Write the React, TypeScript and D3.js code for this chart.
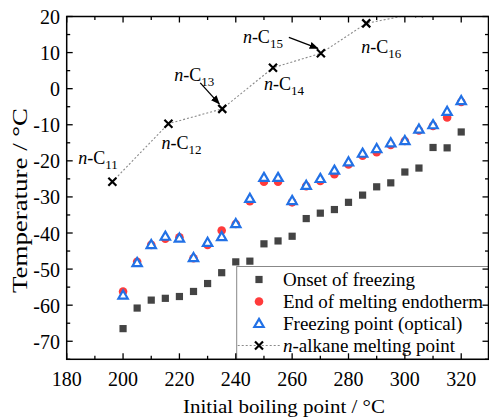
import React from 'react';
import * as d3 from 'd3';

// boiling point of each fraction (°C)
const bpFractions = [200, 205, 210, 215, 220, 225, 230, 235, 240, 245, 250, 255, 260, 265,
  270, 275, 280, 285, 290, 295, 300, 305, 310, 315, 320];
const onsetFreezing = [-66.5, -60.8, -58.6, -58.1, -57.6, -56.2, -54, -51, -48, -47.8, -43, -42.2,
  -40.9, -36, -34.5, -33.5, -31.5, -29.5, -27.2, -26.1, -23.1, -22, -16.3, -16.4, -12];
const endMelting = [-56.2, -48, -43.3, -41.6, -41.2, -47, -43.3, -39.3, -37.5, -31.2, -25.8, -25.8,
  -31.5, -27, -25.6, -23.7, -21, -18.6, -17.6, -15.6, -14.5, -11.6, -10.3, -8, -3.7];
const freezingOptical = [-57.2, -48.2, -43.2, -40.9, -41.4, -46.8, -42.6, -41, -37.4, -30.4, -24.6, -24.6,
  -31, -26.8, -24.9, -22.6, -20.3, -17.9, -16.6, -15, -14.4, -11.2, -10, -6.3, -3.3];

// n-alkanes: boiling point vs melting point
const alkaneNames = ['11', '12', '13', '14', '15', '16', '17'];
const alkaneBp = [196.2, 216.1, 235.2, 253.2, 270.2, 286.3, 305];
const alkaneMp = [-25.8, -9.7, -5.6, 5.8, 9.8, 18.1, 21];

const xTicks = [180, 200, 220, 240, 260, 280, 300, 320];
const yTicks = [20, 10, 0, -10, -20, -30, -40, -50, -60, -70];

const legendLabels = ['Onset of freezing', 'End of melting endotherm', 'Freezing point (optical)', 'n-alkane melting point'];

const W = 489, H = 420;
const m = { left: 66.7, top: 16.5, right: 488.5, bottom: 359.3 };
const FONT = "'Liberation Serif', Tinos, 'Times New Roman', 'DejaVu Serif', serif";
const GREY = '#444';
const RED = '#ff3b3b';
const BLUE = '#2271e6';

// label placement relative to each alkane point (dx, dy of text start / baseline), and arrows
const labelPos: { dx: number; dy: number; arrow?: [number, number, number, number] }[] = [
  { dx: -34, dy: -18 },
  { dx: -7, dy: 25.5 },
  { dx: -48, dy: -28, arrow: [-22, -26, -3, -5] },
  { dx: -9, dy: 22 },
  { dx: -78, dy: -10, arrow: [-32, -16, -3, -5] },
  { dx: -5, dy: 30 },
];

const Cross = ({ x, y, s = 4 }: { x: number; y: number; s?: number }) => (
  <path d={`M${x - s},${y - s}L${x + s},${y + s}M${x - s},${y + s}L${x + s},${y - s}`}
    stroke="#000" strokeWidth={2.2} fill="none" />
);

const Tri = ({ x, y }: { x: number; y: number }) => (
  <path d={d3.symbol(d3.symbolTriangle, 38)()!} transform={`translate(${x},${y + 0.8})`}
    fill="#fff" stroke={BLUE} strokeWidth={2.2} />
);

const AlkLabel = ({ x, y, num }: { x: number; y: number; num: string }) => (
  <text x={x} y={y} style={{ fontFamily: FONT, fontSize: 18 }}>
    <tspan fontStyle="italic">n</tspan>-C<tspan dy={5} style={{ fontSize: 13 }}>{num}</tspan>
  </text>
);

export default function App() {
  const x = d3.scaleLinear().domain([180, 330]).range([m.left, 489.4]);
  const y = d3.scaleLinear().domain([-75, 20]).range([m.bottom, m.top]);

  const line = d3.line<number>().x((_, i) => x(alkaneBp[i])).y(d => y(d));
  const xMinor = d3.range(180, 331, 10);
  const yMinor = d3.range(-75, 21, 5);
  const isMajorX = (v: number) => v % 20 === 0;
  const isMajorY = (v: number) => v % 10 === 0;

  const lg = { x0: 236.7, y0: 266.5, x1: 488.5, rows: [279.5, 301.5, 323.5, 345.5], mx: 259, tx: 283 };

  return (
    <svg width={W} height={H} style={{ position: 'absolute', left: 0, top: 0, background: '#fff', fontFamily: FONT }}>
      <defs>
        <clipPath id="plot">
          <rect x={m.left} y={m.top} width={m.right - m.left} height={m.bottom - m.top} />
        </clipPath>
        <marker id="arr" viewBox="0 0 10 10" refX="9" refY="5" markerWidth="7" markerHeight="7" orient="auto">
          <path d="M0,1L10,5L0,9z" fill="#000" />
        </marker>
      </defs>

      <g clipPath="url(#plot)">
        <path d={line(alkaneMp) ?? ''} fill="none" stroke="#8a8a8a" strokeWidth={1.1} strokeDasharray="2,2" />
        {alkaneMp.map((v, i) => <Cross key={i} x={x(alkaneBp[i])} y={y(v)} />)}

        {onsetFreezing.map((v, i) => (
          <rect key={i} x={x(bpFractions[i]) - 3.6} y={y(v) - 3.6} width={7.2} height={7.2} fill={GREY} />
        ))}
        {endMelting.map((v, i) => (
          <circle key={i} cx={x(bpFractions[i])} cy={y(v)} r={4.3} fill={RED} />
        ))}
        {freezingOptical.map((v, i) => <Tri key={i} x={x(bpFractions[i])} y={y(v)} />)}
      </g>

      {/* n-alkane labels */}
      {labelPos.map((p, i) => {
        const px = x(alkaneBp[i]), py = y(alkaneMp[i]);
        return (
          <g key={i}>
            <AlkLabel x={px + p.dx} y={py + p.dy} num={alkaneNames[i]} />
            {p.arrow && (
              <line x1={px + p.arrow[0]} y1={py + p.arrow[1]} x2={px + p.arrow[2]} y2={py + p.arrow[3]}
                stroke="#000" strokeWidth={1.3} markerEnd="url(#arr)" />
            )}
          </g>
        );
      })}

      {/* legend */}
      <rect x={lg.x0} y={lg.y0} width={lg.x1 - lg.x0} height={m.bottom - lg.y0} fill="#fff" stroke="#888" strokeWidth={1} />
      <rect x={lg.mx - 3.6} y={lg.rows[0] - 3.6} width={7.2} height={7.2} fill={GREY} />
      <circle cx={lg.mx} cy={lg.rows[1]} r={4.3} fill={RED} />
      <Tri x={lg.mx} y={lg.rows[2]} />
      <line x1={lg.x0 + 1} x2={lg.tx - 3} y1={lg.rows[3]} y2={lg.rows[3]} stroke="#8a8a8a" strokeWidth={1.1} strokeDasharray="2,2" />
      <Cross x={lg.mx} y={lg.rows[3]} />
      {legendLabels.map((t, i) => (
        <text key={i} x={lg.tx} y={lg.rows[i] + 6.5} style={{ fontFamily: FONT, fontSize: 19 }}>
          {i === 3 ? <><tspan fontStyle="italic">n</tspan>{t.slice(1)}</> : t}
        </text>
      ))}

      {/* frame and ticks */}
      <rect x={m.left} y={m.top} width={m.right - m.left} height={m.bottom - m.top} fill="none" stroke="#000" strokeWidth={1.5} />
      {xMinor.map(v => {
        const len = isMajorX(v) ? 6 : 3.5;
        return (
          <g key={v}>
            <line x1={x(v)} x2={x(v)} y1={m.bottom} y2={m.bottom - len} stroke="#000" strokeWidth={1.3} />
            <line x1={x(v)} x2={x(v)} y1={m.top} y2={m.top + len} stroke="#000" strokeWidth={1.3} />
          </g>
        );
      })}
      {yMinor.map(v => {
        const len = isMajorY(v) ? 6 : 3.5;
        return (
          <g key={v}>
            <line x1={m.left} x2={m.left + len} y1={y(v)} y2={y(v)} stroke="#000" strokeWidth={1.3} />
            <line x1={m.right} x2={m.right - len} y1={y(v)} y2={y(v)} stroke="#000" strokeWidth={1.3} />
          </g>
        );
      })}
      {xTicks.map(v => (
        <text key={v} x={x(v)} y={385.5} textAnchor="middle" style={{ fontFamily: FONT, fontSize: 20 }}>{v}</text>
      ))}
      {yTicks.map(v => (
        <text key={v} x={60} y={y(v) + 7.5} textAnchor="end" style={{ fontFamily: FONT, fontSize: 20 }}>{v}</text>
      ))}

      <text x={284} y={413} textAnchor="middle" textLength={202} lengthAdjust="spacingAndGlyphs"
        style={{ fontFamily: FONT, fontSize: 19 }}>Initial boiling point / °C</text>
      <text transform="translate(27,200.5) rotate(-90)" textAnchor="middle" textLength={185} lengthAdjust="spacingAndGlyphs"
        style={{ fontFamily: FONT, fontSize: 21 }}>Temperature / °C</text>
    </svg>
  );
}
